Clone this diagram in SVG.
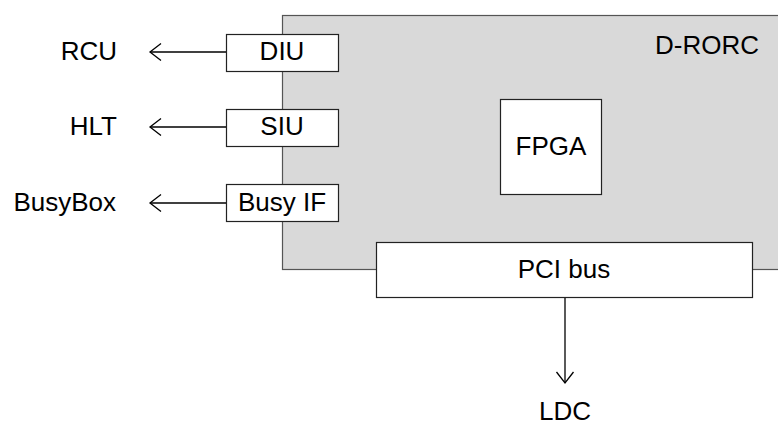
<svg xmlns="http://www.w3.org/2000/svg" width="778" height="425" viewBox="0 0 778 425">
<defs>
<style>
text{font-family:"Liberation Sans",Arial,sans-serif;font-size:26px;fill:#000}
.box{fill:#fff;stroke:#222;stroke-width:1.2}
.board{fill:#d9d9d9;stroke:#555;stroke-width:1.2}
.conn{stroke:#000;stroke-width:1.3;fill:none}
.mid{text-anchor:middle}
.end{text-anchor:end}
</style>
<marker id="arr" markerWidth="14" markerHeight="20" refX="12" refY="10" orient="auto" markerUnits="userSpaceOnUse">
<path d="M1,1.5 L12,10 L1,18.5" fill="none" stroke="#000" stroke-width="1.3"/>
</marker>
</defs>
<g id="drorc">
<rect class="board" x="282.5" y="15.5" width="500" height="254"/>
<text x="759" y="54" class="end">D-RORC</text>
</g>
<g id="fpga">
<rect class="box" x="500.5" y="99.5" width="101" height="95"/>
<text x="551" y="155" class="mid">FPGA</text>
</g>
<g id="diu">
<rect class="box" x="226.5" y="34.5" width="112" height="37"/>
<text x="282" y="60" class="mid">DIU</text>
</g>
<g id="siu">
<rect class="box" x="226.5" y="109.5" width="112" height="37"/>
<text x="282" y="135" class="mid">SIU</text>
</g>
<g id="busyif">
<rect class="box" x="226.5" y="184.5" width="112" height="37"/>
<text x="282" y="211" class="mid">Busy IF</text>
</g>
<g id="pcibus">
<rect class="box" x="376.5" y="242.5" width="376" height="55"/>
<text x="564" y="278" class="mid">PCI bus</text>
</g>
<g id="rcu"><text x="117" y="60" class="end">RCU</text></g>
<g id="hlt"><text x="117" y="135" class="end">HLT</text></g>
<g id="busybox"><text x="116" y="211" class="end">BusyBox</text></g>
<g id="ldc"><text x="565" y="420" class="mid">LDC</text></g>
<g id="connectors">
<line class="conn" x1="226" y1="52" x2="150" y2="52" marker-end="url(#arr)"/>
<line class="conn" x1="226" y1="127" x2="150" y2="127" marker-end="url(#arr)"/>
<line class="conn" x1="226" y1="203" x2="150" y2="203" marker-end="url(#arr)"/>
<line class="conn" x1="565" y1="298" x2="565" y2="383" marker-end="url(#arr)"/>
</g>
</svg>
